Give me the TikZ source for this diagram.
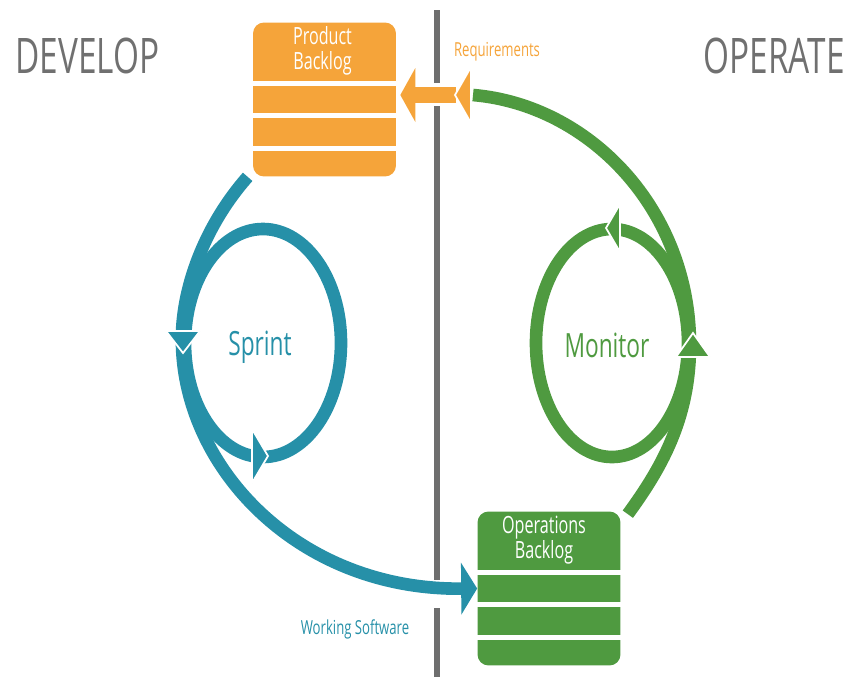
\documentclass[tikz,border=0pt]{standalone}
\usepackage{fontspec}
\setmainfont{Open Sans}[FakeStretch=0.68]
\usepackage{tikz}
\usetikzlibrary{arrows.meta, calc, positioning}
\definecolor{devblue}{HTML}{2690A8}
\definecolor{opsgreen}{HTML}{4F9A40}
\definecolor{reqorange}{HTML}{F5A43A}
\definecolor{linegray}{HTML}{6E6E6E}
\definecolor{titlegray}{HTML}{707070}
\tikzset{
    side/.style={text=titlegray, inner sep=0pt, font=\fontsize{27.9}{30}\selectfont},
    backlog/.style={rounded corners=0.22cm, minimum width=2.86cm, minimum height=3.08cm, inner sep=0pt},
    boxname/.style={text=white, align=center, inner sep=0pt, font=\fontsize{13.5}{14.2}\selectfont},
    stripe/.style={white, line width=3.1pt},
    divider/.style={linegray, line width=3.6pt},
    flow/.style={line width=7.2pt},
    midtip/.style={draw=white, line width=1pt},
    loopname/.style={inner sep=0pt, font=\fontsize{19}{21}\selectfont},
    small/.style={inner sep=0pt, font=\fontsize{11}{12}\selectfont}
}

\begin{document}
\begin{tikzpicture}[x={(0.02cm,0)}, y={(0,-0.02cm)}]
    \useasboundingbox (0,0) rectangle (849,677);
    % sides
    \node[side, anchor=base west] (dev) at (15,73) {DEVELOP};
    \node[side, anchor=base east] (ops) at (845,73) {OPERATE};

    % backlogs
    \node[backlog, fill=reqorange] (pb) at (324.5,99.5) {};
    \node[backlog, fill=opsgreen] (ob) at (549,588.5) {};
    \node[boxname] (pbname) at ($(pb.north)+(-2,29)$) {Product\\Backlog};
    \node[boxname] (obname) at ($(ob.north)+(-5,29)$) {Operations\\Backlog};
    \foreach \d in {61.5,93.5,126.5} {
        \draw[stripe] ($(pb.north west)+(0,\d)$) -- ($(pb.north east)+(0,\d)$);
        \draw[stripe] ($(ob.north west)+(0,\d)$) -- ($(ob.north east)+(0,\d)$);
    }

    % divider
    \draw[divider] (437,10) -- (437,83) (437,106) -- (437,580) (437,608) -- (437,677);

    % develop
    \coordinate (sprintc) at (263,343);
    \node[loopname, text=devblue, anchor=base] (sprint) at (260,355) {Sprint};
    \draw[flow, devblue] (sprintc) ellipse [x radius=78, y radius=114];
    \draw[flow, devblue, -{Triangle[length=0.32cm, width=1.04cm, line width=0pt]}]
        ($(pb.south west)+(-5,0)$) .. controls (205,225) and (180,290) .. (182,345)
        .. controls (185,470) and (300,590) .. (ob.west);
    \fill[devblue, midtip] (166,331) -- (200,331) -- (183,353) -- cycle;
    \fill[devblue, midtip] (252,429) -- (268,456) -- (252,483) -- cycle;
    \node[small, text=devblue, anchor=base] (ws) at (355,634) {Working Software};

    % operate
    \coordinate (monc) at (612,343);
    \coordinate (req) at (456,95);
    \node[loopname, text=opsgreen, anchor=base] (mon) at (607,357) {Monitor};
    \draw[flow, opsgreen] (monc) ellipse [x radius=76, y radius=114];
    \draw[flow, opsgreen] ($(ob.north east)+(7,3)$) .. controls (660,470) and (690,420) .. (690,345)
        .. controls (690,210) and (590,105) .. (473,95);
    \fill[opsgreen, midtip] (676,357) -- (693,333) -- (710,357) -- cycle;
    \fill[opsgreen, midtip] (620,204) -- (606,228) -- (620,252) -- cycle;

    % requirements
    \draw[reqorange, line width=9pt, -{Triangle[length=0.3cm, width=1.08cm, line width=0pt]}]
        (req) -- ($(pb.east |- req)+(4,0)$);
    \fill[reqorange, midtip] (471,67) -- (455,95) -- (471,123) -- cycle;
    \node[small, text=reqorange, anchor=base] (reqlabel) at (497,56) {Requirements};
\end{tikzpicture}
\end{document}
